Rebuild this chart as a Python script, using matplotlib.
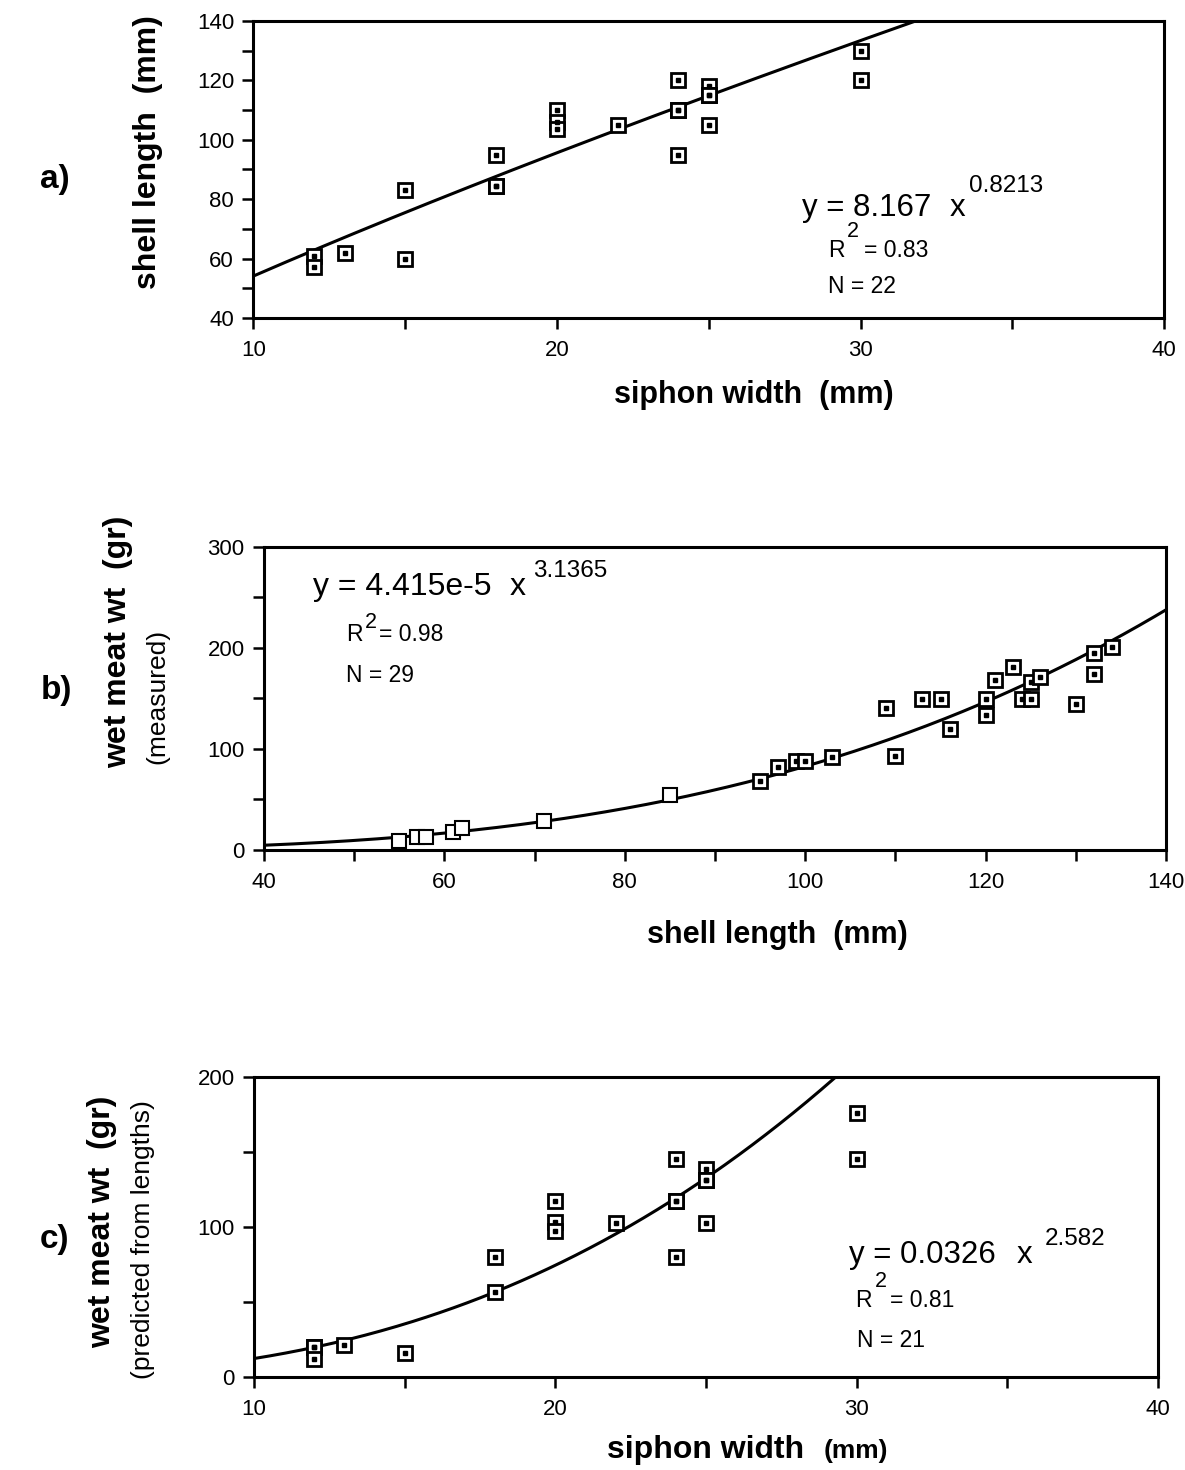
import numpy as np
import matplotlib.pyplot as plt
from matplotlib.ticker import MultipleLocator

plt.rcParams['font.family'] = ['Liberation Sans', 'DejaVu Sans']

# a) shell length vs siphon width
a_siphon = [12, 12, 13, 15, 15, 18, 18, 18, 20, 20, 20, 22, 24, 24, 24, 24, 25, 25, 25, 25, 30, 30]
a_shell = [61, 57, 62, 83, 60, 95, 84.5, 84.5, 110, 106, 103.5, 105, 120, 110, 110, 95, 118, 115, 115, 105, 130, 120]
a_coef, a_exp = 8.167, 0.8213

# b) measured wet meat weight vs shell length
b_shell = [55, 57, 58, 61, 62, 71, 85, 95, 97, 99, 100, 103, 109, 110, 113, 115, 116,
           120, 120, 121, 123, 124, 125, 125, 126, 130, 132, 132, 134]
b_meat = [9, 13, 13, 18, 22, 29, 54, 68, 82, 88, 88, 92, 141, 93, 149.5, 149.5, 120,
          149.5, 133.7, 168, 181.5, 149.5, 149.5, 166, 171.5, 144.5, 195, 174, 200.5]
b_coef, b_exp = 4.415e-5, 3.1365

# c) predicted wet meat weight vs siphon width
c_siphon = [12, 12, 12, 13, 15, 18, 18, 20, 20, 20, 22, 24, 24, 24, 24, 25, 25, 25, 25, 30, 30]
c_meat = [20, 20, 12, 21.5, 16, 80, 57, 117.5, 103.5, 97.5, 102.5, 145.5, 117.5, 117.5, 80,
          139, 131.5, 131.5, 103, 176, 145.5]
c_coef, c_exp = 0.0326, 2.582

fig = plt.figure(figsize=(11.85, 14.7), dpi=100)
ax_a = fig.add_axes([0.2139, 0.7837, 0.7684, 0.2020])
ax_b = fig.add_axes([0.2228, 0.4218, 0.7612, 0.2061])
ax_c = fig.add_axes([0.2143, 0.0631, 0.7629, 0.2043])

EQ = 22.5     # equation text
SUP = 17.5    # exponent
SUB = 16.5    # R2 / N lines


def style_axes(ax, xlim, ylim, xmaj, xmin, ymaj, ymin):
    ax.set_xlim(*xlim)
    ax.set_ylim(*ylim)
    ax.xaxis.set_major_locator(MultipleLocator(xmaj))
    ax.xaxis.set_minor_locator(MultipleLocator(xmin))
    ax.yaxis.set_major_locator(MultipleLocator(ymaj))
    ax.yaxis.set_minor_locator(MultipleLocator(ymin))
    ax.tick_params(which='both', direction='out', width=1.8, length=8, labelsize=16,
                   top=False, right=False)
    ax.tick_params(axis='x', which='major', pad=8)
    ax.tick_params(axis='y', which='major', pad=6)
    for s in ax.spines.values():
        s.set_linewidth(2.2)


def scatter_boxes(ax, x, y, dot=True, mew=2.0):
    ax.plot(x, y, ls='none', marker='s', ms=10, mfc='white', mec='black', mew=mew, zorder=3)
    if dot:
        ax.plot(x, y, ls='none', marker='s', ms=2.3, color='black', zorder=4)


def fit_line(ax, coef, expo, x0, x1):
    xs = np.linspace(x0, x1, 400)
    ax.plot(xs, coef * xs ** expo, color='black', lw=2.2, zorder=2)


def label(ax, x, y, s, size):
    ax.text(x, y, s, transform=ax.transAxes, fontsize=size, va='baseline')


# panel a
style_axes(ax_a, (10, 40), (40, 140), 10, 5, 20, 10)
fit_line(ax_a, a_coef, a_exp, 10, 40)
scatter_boxes(ax_a, a_siphon, a_shell)
label(ax_a, 0.602, 0.343, 'y = 8.167', EQ)
label(ax_a, 0.765, 0.343, 'x', EQ)
label(ax_a, 0.786, 0.425, '0.8213', SUP)
label(ax_a, 0.631, 0.206, 'R', SUB)
label(ax_a, 0.652, 0.274, '2', SUB - 1)
label(ax_a, 0.670, 0.206, '= 0.83', SUB)
label(ax_a, 0.631, 0.083, 'N = 22', SUB)

# panel b
style_axes(ax_b, (40, 140), (0, 300), 20, 10, 100, 50)
fit_line(ax_b, b_coef, b_exp, 40, 140)
scatter_boxes(ax_b, b_shell[:7], b_meat[:7], dot=False, mew=1.5)
scatter_boxes(ax_b, b_shell[7:], b_meat[7:])
label(ax_b, 0.0547, 0.842, 'y = 4.415e-5', 23)
label(ax_b, 0.272, 0.842, 'x', 23)
label(ax_b, 0.298, 0.900, '3.1365', SUP)
label(ax_b, 0.0909, 0.691, 'R', SUB)
label(ax_b, 0.112, 0.732, '2', SUB - 1)
label(ax_b, 0.128, 0.691, '= 0.98', SUB)
label(ax_b, 0.0909, 0.556, 'N = 29', SUB)

# panel c
style_axes(ax_c, (10, 40), (0, 200), 10, 5, 100, 50)
fit_line(ax_c, c_coef, c_exp, 10, 40)
scatter_boxes(ax_c, c_siphon, c_meat)
label(ax_c, 0.6585, 0.380, 'y = 0.0326', EQ)
label(ax_c, 0.8437, 0.380, 'x', EQ)
label(ax_c, 0.875, 0.4406, '2.582', SUP)
label(ax_c, 0.665, 0.235, 'R', SUB)
label(ax_c, 0.687, 0.302, '2', SUB - 1)
label(ax_c, 0.7035, 0.235, '= 0.81', SUB)
label(ax_c, 0.6667, 0.102, 'N = 21', SUB)

# axis titles and panel letters
fig.text(0.1249, 0.8966, 'shell length  (mm)', rotation=90, fontsize=23, fontweight='bold',
         ha='center', va='center')
fig.text(0.6363, 0.7313, 'siphon width  (mm)', fontsize=22, fontweight='bold', ha='center', va='center')

fig.text(0.0996, 0.5633, 'wet meat wt  (gr)', rotation=90, fontsize=23, fontweight='bold',
         ha='center', va='center')
fig.text(0.1325, 0.5259, '(measured)', rotation=90, fontsize=19, ha='center', va='center')
fig.text(0.6561, 0.3639, 'shell length  (mm)', fontsize=22, fontweight='bold', ha='center', va='center')

fig.text(0.0861, 0.1687, 'wet meat wt  (gr)', rotation=90, fontsize=23, fontweight='bold',
         ha='center', va='center')
fig.text(0.1207, 0.1565, '(predicted from lengths)', rotation=90, fontsize=19, ha='center', va='center')
fig.text(0.512, 0.0082, 'siphon width', fontsize=23, fontweight='bold', va='baseline')
fig.text(0.6948, 0.0082, '(mm)', fontsize=19, fontweight='bold', va='baseline')

fig.text(0.0464, 0.8776, 'a)', fontsize=24, fontweight='bold', ha='center', va='center')
fig.text(0.0473, 0.5306, 'b)', fontsize=24, fontweight='bold', ha='center', va='center')
fig.text(0.0456, 0.1565, 'c)', fontsize=24, fontweight='bold', ha='center', va='center')

fig.savefig('out.png', dpi=100)
